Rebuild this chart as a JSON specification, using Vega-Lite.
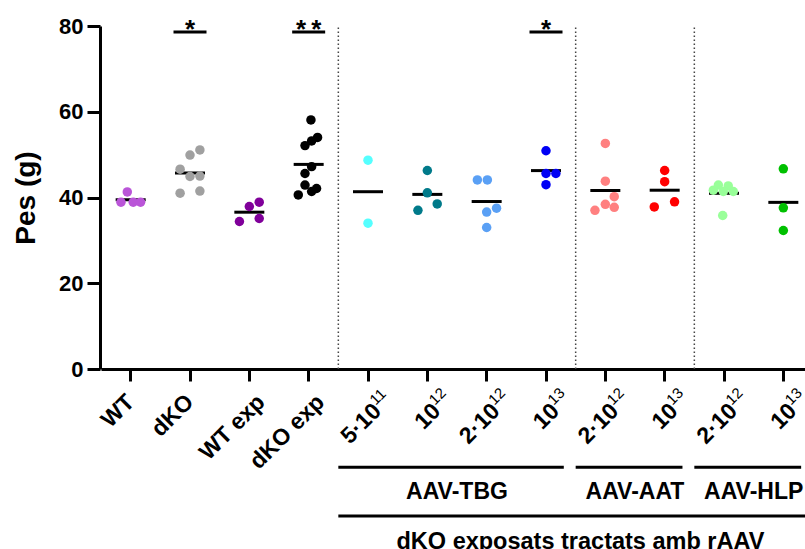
{
  "$schema": "https://vega.github.io/schema/vega-lite/v6.json",
  "width": 705,
  "height": 343,
  "autosize": {"type": "none"},
  "padding": {"left": 100, "top": 26, "right": 0, "bottom": 180},
  "config": {"view": {"stroke": null}, "font": "Liberation Sans"},
  "datasets": {
    "pts": [
      {"g": "WT", "w": 41.3, "s": -0.34}, {"g": "WT", "w": 38.9, "s": -0.98}, {"g": "WT", "w": 38.9, "s": 0.26}, {"g": "WT", "w": 38.9, "s": 1.0},
      {"g": "dKO", "w": 51.1, "s": 1}, {"g": "dKO", "w": 49.9, "s": 0}, {"g": "dKO", "w": 46.6, "s": -1}, {"g": "dKO", "w": 44.9, "s": 0}, {"g": "dKO", "w": 45.0, "s": 1}, {"g": "dKO", "w": 41.0, "s": -1}, {"g": "dKO", "w": 41.5, "s": 1},
      {"g": "WT exp", "w": 34.4, "s": -1}, {"g": "WT exp", "w": 37.9, "s": 0}, {"g": "WT exp", "w": 38.9, "s": 1}, {"g": "WT exp", "w": 35.1, "s": 1},
      {"g": "dKO exp", "w": 58.1, "s": 0.23}, {"g": "dKO exp", "w": 54.0, "s": 0.9}, {"g": "dKO exp", "w": 53.2, "s": 0.3}, {"g": "dKO exp", "w": 52.1, "s": -0.37}, {"g": "dKO exp", "w": 47.2, "s": 0.3}, {"g": "dKO exp", "w": 45.6, "s": -0.37}, {"g": "dKO exp", "w": 42.9, "s": -0.37}, {"g": "dKO exp", "w": 42.1, "s": 0.8}, {"g": "dKO exp", "w": 41.4, "s": 0.3}, {"g": "dKO exp", "w": 40.6, "s": -1.05},
      {"g": "5·10|11|TBG", "w": 48.7, "s": 0}, {"g": "5·10|11|TBG", "w": 34.0, "s": 0},
      {"g": "10|12|TBG", "w": 46.3, "s": 0}, {"g": "10|12|TBG", "w": 41.1, "s": 0}, {"g": "10|12|TBG", "w": 38.5, "s": 1}, {"g": "10|12|TBG", "w": 37.0, "s": -0.95},
      {"g": "2·10|12|TBG", "w": 44.1, "s": -0.94}, {"g": "2·10|12|TBG", "w": 44.1, "s": 0.07}, {"g": "2·10|12|TBG", "w": 37.5, "s": 1}, {"g": "2·10|12|TBG", "w": 36.6, "s": 0}, {"g": "2·10|12|TBG", "w": 33.0, "s": 0},
      {"g": "10|13|TBG", "w": 50.9, "s": 0}, {"g": "10|13|TBG", "w": 45.6, "s": 0}, {"g": "10|13|TBG", "w": 45.6, "s": 1}, {"g": "10|13|TBG", "w": 43.0, "s": 0},
      {"g": "2·10|12|AAT", "w": 52.6, "s": 0}, {"g": "2·10|12|AAT", "w": 43.8, "s": 0}, {"g": "2·10|12|AAT", "w": 40.2, "s": 0.9}, {"g": "2·10|12|AAT", "w": 38.4, "s": 0}, {"g": "2·10|12|AAT", "w": 37.7, "s": 0.9}, {"g": "2·10|12|AAT", "w": 37.0, "s": -1.05},
      {"g": "10|13|AAT", "w": 46.3, "s": 0}, {"g": "10|13|AAT", "w": 43.7, "s": 0}, {"g": "10|13|AAT", "w": 39.0, "s": 1}, {"g": "10|13|AAT", "w": 37.8, "s": -1.05},
      {"g": "2·10|12|HLP", "w": 42.9, "s": -0.57}, {"g": "2·10|12|HLP", "w": 42.7, "s": 0.43}, {"g": "2·10|12|HLP", "w": 41.7, "s": -1.08}, {"g": "2·10|12|HLP", "w": 41.4, "s": -0.07}, {"g": "2·10|12|HLP", "w": 41.4, "s": 0.94}, {"g": "2·10|12|HLP", "w": 35.8, "s": -0.13},
      {"g": "10|13|HLP", "w": 46.7, "s": 0}, {"g": "10|13|HLP", "w": 37.6, "s": 0}, {"g": "10|13|HLP", "w": 32.3, "s": 0}
    ],
    "sups": [
      {"g": "5·10|11|TBG", "sup": "11"}, {"g": "10|12|TBG", "sup": "12"}, {"g": "2·10|12|TBG", "sup": "12"}, {"g": "10|13|TBG", "sup": "13"},
      {"g": "2·10|12|AAT", "sup": "12"}, {"g": "10|13|AAT", "sup": "13"}, {"g": "2·10|12|HLP", "sup": "12"}, {"g": "10|13|HLP", "sup": "13"}
    ],
    "seps": [{"sep": "5·10|11|TBG"}, {"sep": "2·10|12|AAT"}, {"sep": "2·10|12|HLP"}],
    "sig": [{"g": "dKO", "lab": "*"}, {"g": "dKO exp", "lab": "*\u2009*"}, {"g": "10|13|TBG", "lab": "*"}],
    "groups": [
      {"name": "AAV-TBG", "first": "5·10|11|TBG", "last": "10|13|TBG", "mid": "2·10|12|TBG"},
      {"name": "AAV-AAT", "first": "2·10|12|AAT", "last": "10|13|AAT", "mid": "10|13|AAT"},
      {"name": "AAV-HLP", "first": "2·10|12|HLP", "last": "10|13|HLP", "mid": "10|13|HLP"}
    ],
    "span": [{"a": "5·10|11|TBG", "b": "10|13|HLP", "c": "2·10|12|AAT", "t": "dKO exposats tractats amb rAAV"}]
  },
  "layer": [
    {
      "data": {"name": "seps"},
      "mark": {"type": "rule", "strokeDash": [1.5, 2.5], "strokeWidth": 1.5, "color": "#444444"},
      "encoding": {
        "x": {"field": "sep", "type": "nominal", "bandPosition": 0, "title": null},
        "y": {"datum": 0},
        "y2": {"datum": 80}
      }
    },
    {
      "data": {"name": "pts"},
      "mark": {"type": "tick", "color": "black", "size": 30, "thickness": 3, "opacity": 1},
      "encoding": {
        "x": {"field": "g", "type": "nominal", "title": null},
        "y": {"aggregate": "mean", "field": "w", "type": "quantitative", "title": "Pes (g)"}
      }
    },
    {
      "data": {"name": "pts"},
      "mark": {"type": "point", "filled": true, "size": 90, "opacity": 1},
      "encoding": {
        "x": {
          "field": "g", "type": "nominal", "bandPosition": 0, "title": null,
          "scale": {
            "domain": ["WT", "dKO", "WT exp", "dKO exp", "5·10|11|TBG", "10|12|TBG", "2·10|12|TBG", "10|13|TBG", "2·10|12|AAT", "10|13|AAT", "2·10|12|HLP", "10|13|HLP"],
            "range": [1, 713], "paddingInner": 0, "paddingOuter": 0
          },
          "axis": {
            "title": null, "labelExpr": "split(datum.value, '|')[0]",
            "labelAngle": -45, "labelAlign": "right", "labelBaseline": "middle",
            "labelFontSize": 23, "labelFontWeight": "bold", "labelColor": "black",
            "labelPadding": {"condition": {"test": "indexof(datum.value, '|') >= 0", "value": 26}, "value": 17},
            "labelOffset": {"condition": [{"test": "indexof(datum.value, '|') >= 0", "value": 9.5}, {"test": "indexof(datum.value, ' exp') >= 0", "value": 12}], "value": 0},
            "domainColor": "black", "domainWidth": 3, "tickColor": "black", "tickWidth": 3, "tickSize": 12
          }
        },
        "xOffset": {"field": "s", "type": "quantitative", "scale": {"domain": [-3, 3], "range": [0, 59.33]}},
        "y": {
          "field": "w", "type": "quantitative",
          "scale": {"domain": [0, 80]},
          "axis": {
            "title": "Pes (g)", "values": [0, 20, 40, 60, 80], "grid": false,
            "labelFontSize": 22, "labelFontWeight": "bold", "labelColor": "black", "labelPadding": 4,
            "titleFontSize": 28, "titleFontWeight": "bold", "titleColor": "black", "titlePadding": 18,
            "domainColor": "black", "domainWidth": 3, "tickColor": "black", "tickWidth": 3, "tickSize": 13
          }
        },
        "color": {
          "field": "g", "type": "nominal", "legend": null,
          "scale": {
            "domain": ["WT", "dKO", "WT exp", "dKO exp", "5·10|11|TBG", "10|12|TBG", "2·10|12|TBG", "10|13|TBG", "2·10|12|AAT", "10|13|AAT", "2·10|12|HLP", "10|13|HLP"],
            "range": ["#BA55D8", "#A0A0A0", "#80009A", "#000000", "#55FFFF", "#007A8A", "#5AA0F5", "#0000F5", "#FF8080", "#FF0000", "#99FF99", "#00C000"]
          }
        }
      }
    },
    {
      "data": {"name": "sups"},
      "mark": {"type": "text", "angle": 315, "align": "left", "baseline": "middle", "fontSize": 15, "fontWeight": "normal", "color": "black", "dx": -20.5, "dy": 26.5},
      "encoding": {
        "x": {"field": "g", "type": "nominal", "title": null},
        "y": {"datum": 0},
        "text": {"field": "sup"}
      }
    },
    {
      "data": {"name": "sig"},
      "mark": {"type": "tick", "color": "black", "size": 33, "thickness": 3, "opacity": 1},
      "encoding": {
        "x": {"field": "g", "type": "nominal", "title": null},
        "y": {"datum": 78.6}
      }
    },
    {
      "data": {"name": "sig"},
      "mark": {"type": "text", "fontSize": 26, "fontWeight": "bold", "color": "black", "baseline": "alphabetic", "align": "center", "dy": 6},
      "encoding": {
        "x": {"field": "g", "type": "nominal", "title": null},
        "y": {"datum": 78.6},
        "text": {"field": "lab"}
      }
    },
    {
      "data": {"name": "groups"},
      "mark": {"type": "rule", "color": "black", "strokeWidth": 3},
      "encoding": {
        "x": {"field": "first", "type": "nominal", "bandPosition": 0, "title": null},
        "x2": {"field": "last", "bandPosition": 0.8},
        "y": {"datum": -22.9}
      }
    },
    {
      "data": {"name": "groups"},
      "mark": {"type": "text", "fontSize": 23, "fontWeight": "bold", "color": "black", "baseline": "middle", "align": "center"},
      "encoding": {
        "x": {"field": "mid", "type": "nominal", "bandPosition": 0, "title": null},
        "y": {"datum": -28.8},
        "text": {"field": "name"}
      }
    },
    {
      "data": {"name": "span"},
      "mark": {"type": "rule", "color": "black", "strokeWidth": 3},
      "encoding": {
        "x": {"field": "a", "type": "nominal", "bandPosition": 0, "title": null},
        "x2": {"field": "b", "bandPosition": 1},
        "y": {"datum": -34.3}
      }
    },
    {
      "data": {"name": "span"},
      "mark": {"type": "text", "fontSize": 23.5, "fontWeight": "bold", "color": "black", "baseline": "middle", "align": "center"},
      "encoding": {
        "x": {"field": "c", "type": "nominal", "bandPosition": 0.08, "title": null},
        "y": {"datum": -40.4},
        "text": {"field": "t"}
      }
    }
  ]
}
